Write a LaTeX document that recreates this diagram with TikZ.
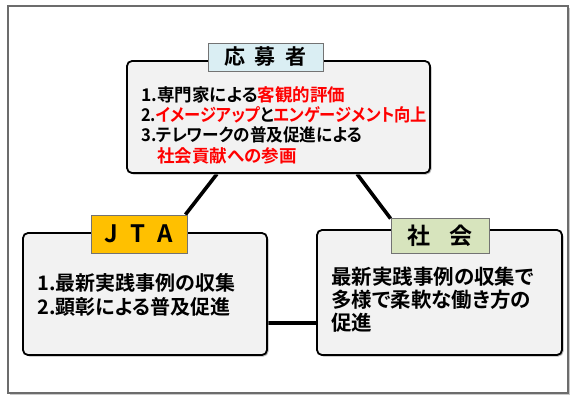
\documentclass[tikz,border=0pt]{standalone}
\usepackage{fontspec}
\newfontfamily\jpfont{Noto Sans CJK JP}[BoldFont={Noto Sans CJK JP Bold},RawFeature=+palt]
\usepackage{tikz}
\usetikzlibrary{positioning,shadows}
\definecolor{boxgray}{HTML}{F2F2F2}
\definecolor{lblblue}{HTML}{DAEEF3}
\definecolor{lblgold}{HTML}{FFC000}
\definecolor{lblgreen}{HTML}{D7E4BD}
\definecolor{hired}{HTML}{FF0000}
\pgfdeclarelayer{framelayer}
\pgfdeclarelayer{linelayer}
\pgfsetlayers{framelayer,linelayer,main}
\begin{document}
\begin{tikzpicture}[x=1pt,y=-1pt,
  infobox/.style={draw=black,line width=1.8pt,fill=boxgray,rounded corners=5pt,
    drop shadow={shadow xshift=1.5pt,shadow yshift=-1.5pt,fill=gray!70,opacity=0.8}},
  tagbox/.style={draw=gray!90!black,line width=0.9pt,inner sep=0pt,font=\jpfont\bfseries},
  conn/.style={line width=3.6pt,draw=black},
  boxtext/.style={anchor=west,align=left,inner sep=0pt,font=\jpfont\bfseries}]
\useasboundingbox (0,0) rectangle (580,400);
% outer frame
\begin{pgfonlayer}{framelayer}
\draw[draw=gray!85!black,line width=1.6pt,fill=white,
  drop shadow={shadow xshift=1.5pt,shadow yshift=-1.5pt,fill=gray!60,opacity=0.7}]
  (8,6) rectangle (568,393);
\end{pgfonlayer}

% boxes
\node[infobox,minimum width=303pt,minimum height=112pt] (apbox) at (278.5,117) {};
\node[infobox,minimum width=244pt,minimum height=122pt] (jtabox) at (145,294) {};
\node[infobox,minimum width=245pt,minimum height=125pt] (socbox) at (439.5,292.5) {};

% tags
\node[tagbox,fill=lblblue,minimum width=115pt,minimum height=28pt,font=\jpfont\bfseries\fontsize{21}{21}\selectfont]
  (aptag) at (265.5,57) {応\hspace{0.45em}募\hspace{0.45em}者};
\node[tagbox,fill=lblgold,minimum width=96pt,minimum height=38pt,font=\jpfont\bfseries\fontsize{24}{24}\selectfont]
  (jtatag) at (139,234) {J\hspace{0.5em}T\hspace{0.5em}A};
\node[tagbox,fill=lblgreen,minimum width=98pt,minimum height=35pt,font=\jpfont\bfseries\fontsize{23}{23}\selectfont]
  (soctag) at (440,235.5) {社\hspace{0.8em}会};

% connectors
\begin{pgfonlayer}{linelayer}
\draw[conn] ([xshift=-61.5pt]apbox.south) -- ([xshift=-2pt]jtatag.north east);
\draw[conn] ([xshift=78.5pt]apbox.south) -- ([yshift=-1pt]soctag.north west);
\draw[conn] ([yshift=-29pt]jtabox.east) -- ([yshift=-29pt]jtabox.east -| socbox.west);
\end{pgfonlayer}

% texts
\node[boxtext,font=\jpfont\bfseries\fontsize{17.5}{20.3}\selectfont] (aptext) at (141,125)
  {1.専門家による\textcolor{hired}{客観的評価}\\
   \scalebox{0.93}[1]{2.\textcolor{hired}{イメージアップ}と\textcolor{hired}{エンゲージメント向上}}\\
   \scalebox{0.95}[1]{3.テレワークの普及促進による}\\
   \hspace{16pt}\textcolor{hired}{社会貢献への参画}};
\node[boxtext,font=\jpfont\bfseries\fontsize{20}{24}\selectfont] (jtatext) at (37,295)
  {1.最新実践事例の収集\\2.顕彰による普及促進};
\node[boxtext,font=\jpfont\bfseries\fontsize{20.5}{23}\selectfont] (soctext) at (331,300)
  {最新実践事例の収集で\\多様で柔軟な働き方の\\促進};
\end{tikzpicture}
\end{document}
